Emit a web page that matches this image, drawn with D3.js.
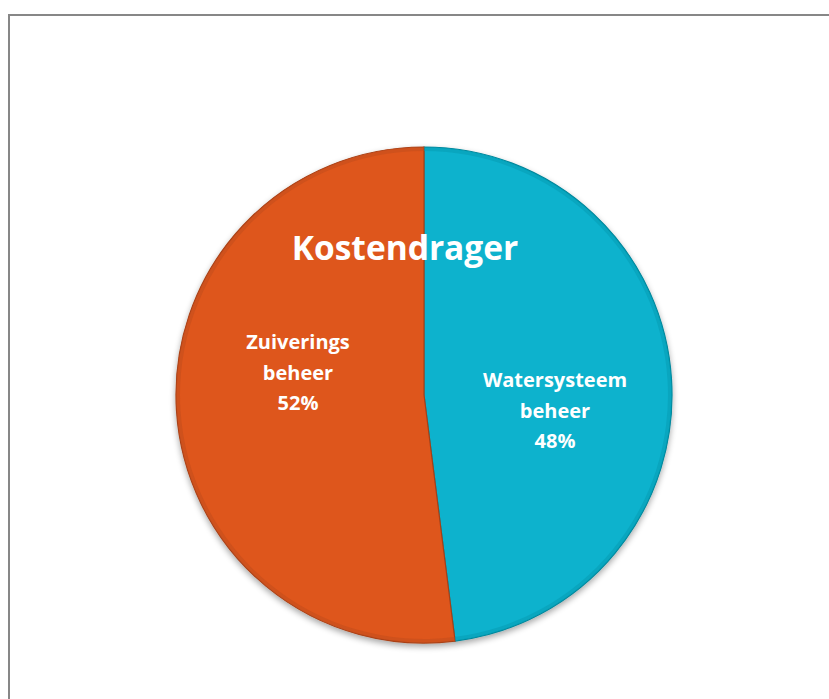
<!DOCTYPE html>
<html><head><meta charset="utf-8">
<script src="https://cdn.jsdelivr.net/npm/d3@7"></script>
<style>body{margin:0;background:#fff}svg{display:block}</style>
</head><body>
<svg id="c" width="829" height="699"></svg>
<script>
const categories = ["Watersysteem beheer", "Zuiverings beheer"];
const labelLines = [["Watersysteem", "beheer"], ["Zuiverings", "beheer"]];
const values = [48, 52];
const colors = ["#07B2CD", "#DE561F"];
const title = "Kostendrager";

const svg = d3.select("#c");
svg.append("rect").attr("x", 9).attr("y", 15).attr("width", 840).attr("height", 700)
  .attr("fill", "#fff").attr("stroke", "#878787").attr("stroke-width", 2);

const cx = 424, cy = 395, r = 248;
const defs = svg.append("defs");
const f = defs.append("filter").attr("id", "sh").attr("x", "-20%").attr("y", "-20%").attr("width", "140%").attr("height", "140%");
f.append("feGaussianBlur").attr("in", "SourceAlpha").attr("stdDeviation", 3);
f.append("feOffset").attr("dy", 3).attr("result", "b");
f.append("feComponentTransfer").append("feFuncA").attr("type", "linear").attr("slope", 0.35);
const m = f.append("feMerge"); m.append("feMergeNode"); m.append("feMergeNode").attr("in", "SourceGraphic");

const g = svg.append("g").attr("transform", `translate(${cx},${cy})`);
const pie = d3.pie().sort(null).value(d => d)(values);
const arc = d3.arc().innerRadius(0).outerRadius(r);
g.append("g").attr("filter", "url(#sh)").selectAll("path").data(pie).join("path")
  .attr("d", arc).attr("fill", (d, i) => colors[i])
  .attr("stroke", (d, i) => d3.color(colors[i]).darker(0.8)).attr("stroke-width", 1.2);
g.selectAll("path.bev").data(pie).join("path").attr("class", "bev")
  .attr("d", d3.arc().innerRadius(r - 4).outerRadius(r))
  .attr("fill", (d, i) => d3.color(colors[i]).darker(0.4)).attr("opacity", 0.5);

const labelPos = [[555, 380], [298, 342]];
const total = d3.sum(values);
pie.forEach((d, i) => {
  const t = svg.append("text").attr("text-anchor", "middle").attr("fill", "#fff")
    .attr("font-family", "'Open Sans', Lato, sans-serif").attr("font-weight", "bold").attr("font-size", 20);
  const lines = labelLines[i].concat([Math.round(values[i] / total * 100) + "%"]);
  lines.forEach((l, j) => t.append("tspan").attr("x", labelPos[i][0]).attr("y", labelPos[i][1] + 7 + j * 30.5).text(l));
});

svg.append("text").attr("x", 405).attr("y", 260).attr("text-anchor", "middle").attr("fill", "#fff")
  .attr("font-family", "'Open Sans', Lato, sans-serif").attr("font-weight", "bold").attr("font-size", 33.5)
  .text(title);
</script>
</body></html>
